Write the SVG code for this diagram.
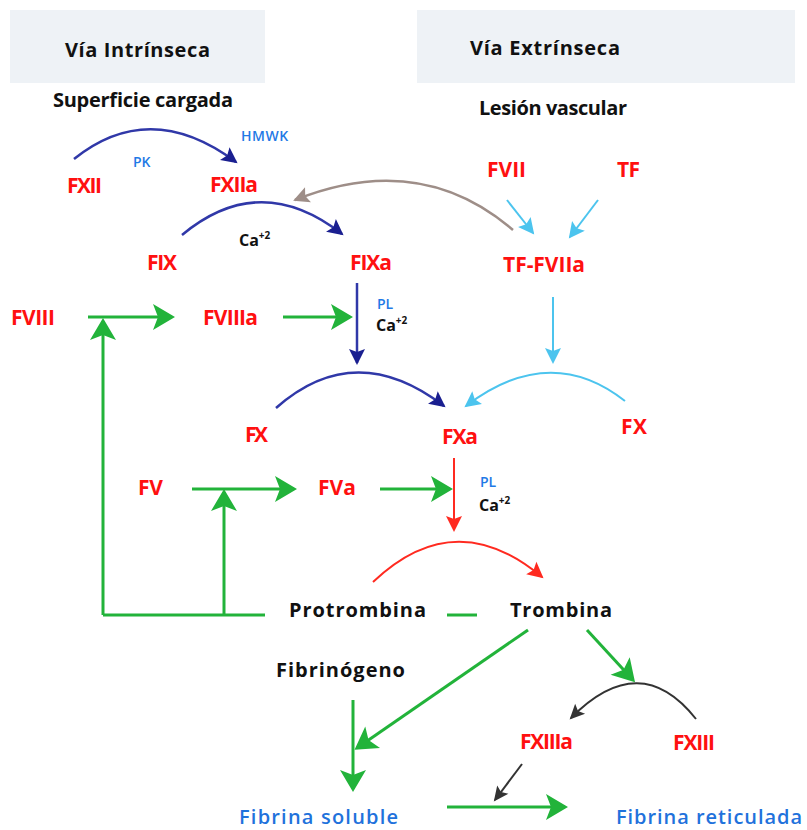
<svg xmlns="http://www.w3.org/2000/svg" width="807" height="830" viewBox="0 0 807 830">
<style>
text{font-family:"Open Sans","Liberation Sans",sans-serif;font-weight:bold}
.hdr{font-size:20px;fill:#111}
.blk{font-size:20px;fill:#111}
.red{font-size:21px;fill:#ff1010}
.sm{font-size:14px;fill:#1f7ae6;font-weight:600}
.ca{font-size:16px;fill:#111}
.fib{font-size:20px;fill:#1f72dc;font-weight:600}
.g{stroke:#22b33a;stroke-width:3;fill:none}
.db{stroke:#3038a8;stroke-width:2.5;fill:none}
.lb{stroke:#4cc4ee;stroke-width:2;fill:none}
.rd{stroke:#ff2a20;stroke-width:2;fill:none}
.bk{stroke:#333;stroke-width:2;fill:none}
.gy{stroke:#9e8e88;stroke-width:2.5;fill:none}
</style>
<defs>
<marker id="mg" markerUnits="userSpaceOnUse" markerWidth="24" markerHeight="28" refX="19" refY="13" orient="auto" overflow="visible"><path d="M0,0 L22,13 L0,26 L5,13 Z" fill="#22b33a"/></marker>
<marker id="mdb" markerUnits="userSpaceOnUse" markerWidth="18" markerHeight="18" refX="14" refY="8" orient="auto" overflow="visible"><path d="M0,0 L16,8 L0,16 L3,8 Z" fill="#1a1f90"/></marker>
<marker id="mlb" markerUnits="userSpaceOnUse" markerWidth="18" markerHeight="18" refX="14" refY="8" orient="auto" overflow="visible"><path d="M0,0 L16,8 L0,16 L3,8 Z" fill="#4cc4ee"/></marker>
<marker id="mrd" markerUnits="userSpaceOnUse" markerWidth="18" markerHeight="18" refX="14" refY="8" orient="auto" overflow="visible"><path d="M0,0 L16,8 L0,16 L3,8 Z" fill="#ff2a20"/></marker>
<marker id="mbk" markerUnits="userSpaceOnUse" markerWidth="18" markerHeight="18" refX="13" refY="7" orient="auto" overflow="visible"><path d="M0,0 L15,7 L0,14 L3,7 Z" fill="#333"/></marker>
<marker id="mgy" markerUnits="userSpaceOnUse" markerWidth="18" markerHeight="18" refX="14" refY="8" orient="auto" overflow="visible"><path d="M0,0 L16,8 L0,16 L3,8 Z" fill="#9e8e88"/></marker>
</defs>
<rect width="807" height="830" fill="#fff"/>

<g id="hdr-intrinseca"><rect x="10" y="10" width="255" height="73" fill="#eef2f6"/><text class="hdr" x="65" y="57" textLength="145">Vía Intrínseca</text></g>
<g id="hdr-extrinseca"><rect x="417" y="10" width="378" height="73" fill="#eef2f6"/><text class="hdr" x="470" y="55" textLength="150">Vía Extrínseca</text></g>

<g id="superficie"><text class="blk" x="53" y="107" textLength="180">Superficie cargada</text></g>
<g id="lesion"><text class="blk" x="479" y="115" textLength="148">Lesión vascular</text></g>
<g id="hmwk"><text class="sm" x="241" y="141" font-size="14" letter-spacing="0.5">HMWK</text></g>
<g id="pk"><text class="sm" x="133" y="167" font-size="15">PK</text></g>
<g id="fxii"><text class="red" x="67" y="193" textLength="35">FXII</text></g>
<g id="fxiia"><text class="red" x="210" y="192" textLength="48">FXIIa</text></g>
<g id="fvii"><text class="red" x="487" y="177" textLength="39">FVII</text></g>
<g id="tf"><text class="red" x="617" y="177" textLength="23">TF</text></g>
<g id="ca1"><text class="ca" x="239" y="246">Ca<tspan font-size="10" dy="-7">+2</tspan></text></g>
<g id="fix"><text class="red" x="147" y="270" textLength="30">FIX</text></g>
<g id="fixa"><text class="red" x="350" y="270" textLength="42">FIXa</text></g>
<g id="tf-fviia"><text class="red" x="503" y="272" textLength="82">TF-FVIIa</text></g>
<g id="fviii"><text class="red" x="11" y="325" textLength="44">FVIII</text></g>
<g id="fviiia"><text class="red" x="203" y="325" textLength="55">FVIIIa</text></g>
<g id="pl1"><text class="sm" x="377" y="309">PL</text></g>
<g id="ca2"><text class="ca" x="376" y="331">Ca<tspan font-size="10" dy="-7">+2</tspan></text></g>
<g id="fx-left"><text class="red" x="245" y="442" textLength="23">FX</text></g>
<g id="fxa"><text class="red" x="442" y="444" textLength="36">FXa</text></g>
<g id="fx-right"><text class="red" x="621" y="434" textLength="26">FX</text></g>
<g id="fv"><text class="red" x="138" y="495" textLength="25">FV</text></g>
<g id="fva"><text class="red" x="318" y="495" textLength="38">FVa</text></g>
<g id="pl2"><text class="sm" x="480" y="487">PL</text></g>
<g id="ca3"><text class="ca" x="479" y="511">Ca<tspan font-size="10" dy="-7">+2</tspan></text></g>
<g id="protrombina"><text class="blk" x="289" y="617" textLength="137">Protrombina</text></g>
<g id="trombina"><text class="blk" x="510" y="617" textLength="102">Trombina</text></g>
<g id="fibrinogeno"><text class="blk" x="276" y="677" textLength="129">Fibrinógeno</text></g>
<g id="fxiiia"><text class="red" x="520" y="749" textLength="53">FXIIIa</text></g>
<g id="fxiii"><text class="red" x="673" y="750" textLength="42">FXIII</text></g>
<g id="fibrina-soluble"><text class="fib" x="239" y="824" textLength="159">Fibrina soluble</text></g>
<g id="fibrina-reticulada"><text class="fib" x="616" y="824" textLength="186">Fibrina reticulada</text></g>

<g id="connectors">
<path class="db" d="M74,159 Q150,98 236,162" marker-end="url(#mdb)"/>
<path class="gy" d="M513,230 Q420,150 295,200" marker-end="url(#mgy)"/>
<path class="db" d="M182,235 Q260,170 342,234" marker-end="url(#mdb)"/>
<path class="lb" d="M507,200 L533,233" marker-end="url(#mlb)"/>
<path class="lb" d="M598,200 L570,237" marker-end="url(#mlb)"/>
<path class="db" d="M357,283 L357,363" marker-end="url(#mdb)"/>
<path class="g" d="M88,317 L172,317" marker-end="url(#mg)"/>
<path class="g" d="M283,317 L350,317" marker-end="url(#mg)"/>
<path class="g" d="M103,615 L103,321" marker-end="url(#mg)"/>
<path class="db" d="M276,408 Q355,338 444,406" marker-end="url(#mdb)"/>
<path class="lb" d="M553,297 L553,362" marker-end="url(#mlb)"/>
<path class="lb" d="M625,401 Q550,342 466,406" marker-end="url(#mlb)"/>
<path class="rd" d="M454,458 L454,530" marker-end="url(#mrd)"/>
<path class="g" d="M192,489 L294,489" marker-end="url(#mg)"/>
<path class="g" d="M380,489 L450,489" marker-end="url(#mg)"/>
<path class="g" d="M224,615 L224,492" marker-end="url(#mg)"/>
<path class="g" d="M103,615 L265,615"/>
<path class="g" d="M447,615 L477,615"/>
<path class="rd" d="M373,582 Q455,504 542,577" marker-end="url(#mrd)"/>
<path class="g" d="M353,700 L353,789" marker-end="url(#mg)"/>
<path class="g" d="M528,630 L357,748" marker-end="url(#mg)"/>
<path class="g" d="M587,630 L633,680" marker-end="url(#mg)"/>
<path class="bk" d="M696,719 Q640,648 571,718" marker-end="url(#mbk)"/>
<path class="bk" d="M522,764 L495,800" marker-end="url(#mbk)"/>
<path class="g" d="M447,807 L565,807" marker-end="url(#mg)"/>
</g>
</svg>
